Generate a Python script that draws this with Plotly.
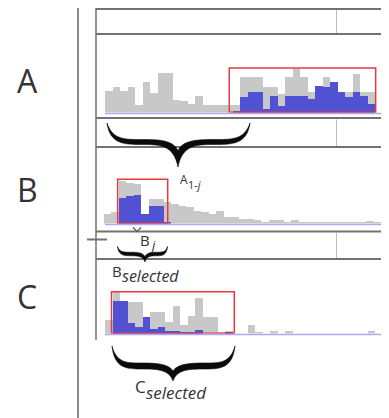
import plotly.graph_objects as go

# The page body has an 8px margin, so the figure is drawn at (8, 8).
OX, OY = 8, 8
W, H = 389 - OX, 418 - OY

# ---------------- data ----------------
bins_A = list(range(36))
A_gray = [22, 26, 22, 26, 8, 31, 20, 40, 40, 13, 12, 9, 17, 8, 8, 8, 8, 8,
          36, 36, 36, 26, 26, 19, 36, 44, 36, 21, 27, 36, 31, 21, 21, 39, 21, 21]
A_blue = [0, 0, 0, 0, 0, 0, 0, 0, 0, 0, 0, 0, 0, 0, 0, 0, 0, 2,
          16, 21, 21, 4, 17, 7, 17, 17, 17, 14, 27, 26, 31, 21, 16, 21, 17, 9]

bins_B = list(range(37))
B_gray = [10, 12, 43, 41, 40, 10, 25, 25, 22, 20, 18, 17, 13, 12, 10, 13, 7, 7, 5,
          5, 4, 2, 4, 4, 1, 4, 2, 2, 1, 1, 2, 2, 2, 1, 2, 3, 1]
B_blue = [0, 0, 26, 28, 29, 10, 18, 18, 2, 0, 0, 0, 0, 0, 0, 0, 0, 0, 0,
          0, 0, 0, 0, 0, 0, 0, 0, 0, 0, 0, 0, 0, 0, 0, 0, 0, 0]

bins_C = list(range(36))
C_gray = [14, 42, 33, 32, 32, 17, 22, 22, 12, 28, 9, 18, 36, 17, 17, 2, 3, 0,
          0, 9, 2, 0, 3, 0, 3, 0, 0, 0, 0, 0, 0, 0, 0, 0, 0, 3]
C_blue = [0, 33, 33, 11, 7, 17, 5, 7, 3, 3, 1, 1, 4, 0, 0, 0, 1, 0,
          0, 0, 0, 0, 0, 0, 0, 0, 0, 0, 0, 0, 0, 0, 0, 0, 0, 0]

# selected ranges (bin units) and box heights
A_sel = (16.07, 35.59, 44.5)
B_sel = (1.39, 8.06, 44.2)
C_sel = (0.37, 16.74, 41.8)

row_labels = ["A", "B", "C"]

GRAY = "#c8c8c8"
BLUE = "#5151d3"
RED = "#e8383d"
FRAME = "#727272"
TXT = "#333333"
FONT = "Open Sans"


def px(x):
    return (x - OX) / W


def py(y):
    return 1 - (y - OY) / H


fig = go.Figure()
for i, (bins, g, b) in enumerate([(bins_A, A_gray, A_blue), (bins_B, B_gray, B_blue),
                                  (bins_C, C_gray, C_blue)]):
    sfx = "" if i == 0 else str(i + 1)
    fig.add_trace(go.Bar(x=bins, y=g, marker=dict(color=GRAY, line=dict(width=0)), width=1,
                         xaxis="x" + sfx, yaxis="y" + sfx, showlegend=False, hoverinfo="skip"))
    fig.add_trace(go.Bar(x=bins, y=b, marker=dict(color=BLUE, line=dict(width=0)), width=1,
                         xaxis="x" + sfx, yaxis="y" + sfx, showlegend=False, hoverinfo="skip"))

ax = dict(visible=False, showgrid=False, zeroline=False, fixedrange=True)
# panel geometry (pixels): baseline, top, x range
panels = [(112.5, 36, [-1.7, 37.3667]), (223.5, 149, [-1.5, 37.5667]), (333.5, 261, [-1.7, 37.3667])]
lay = {}
for i, (base, top, xr) in enumerate(panels):
    sfx = "" if i == 0 else str(i + 1)
    lay["xaxis" + sfx] = dict(ax, domain=[px(96), 1], range=xr, anchor="y" + sfx)
    lay["yaxis" + sfx] = dict(ax, domain=[py(base), py(top)], range=[0, base - top], anchor="x" + sfx)

shapes = []


def line(x0, y0, x1, y1, color=FRAME, width=1.5, layer="above"):
    shapes.append(dict(type="line", xref="paper", yref="paper", x0=px(x0), y0=py(y0),
                       x1=px(x1), y1=py(y1), line=dict(color=color, width=width), layer=layer))


# left divider
line(78, 8, 78, 418, color="#8a8a8a", width=2)
# frame
line(96, 8, 96, 340, width=1.5)
line(96, 9, 389, 9, width=2)
for y in (34, 118, 147, 231.5, 259):
    line(96, y, 389, y, width=1.8)
line(87, 239.5, 107, 239.5, width=2)
for (y0, y1) in ((10, 33), (119.5, 146), (233, 258)):
    line(336.5, y0, 336.5, y1, color="#bdbdbd", width=1)
# baselines of the blue series
for base in (113.5, 224.5, 334.5):
    line(105, base, 389, base, color="#aaaaf2", width=1.5, layer="below")

# selection boxes
for i, (s0, s1, top) in enumerate([A_sel, B_sel, C_sel]):
    sfx = "" if i == 0 else str(i + 1)
    shapes.append(dict(type="rect", xref="x" + sfx, yref="y" + sfx, x0=s0, x1=s1, y0=0.2, y1=top,
                       line=dict(color=RED, width=1.5), fillcolor="rgba(0,0,0,0)"))


def P(x, y):
    return f"{px(x):.5f},{py(y):.5f}"


def brace(x0, x1, xc, yend, yarm, ytip, t):
    L = xc - x0
    R = x1 - xc
    notch = yarm + 0.35 * (ytip - yarm)
    s = [
        "M" + P(x0, yend),
        "C" + P(x0 + 0.04 * L, yarm + 0.5 * t) + " " + P(x0 + 0.25 * L, yarm + 0.5 * t) + " " + P(x0 + 0.5 * L, yarm + 0.5 * t),
        "C" + P(x0 + 0.75 * L, yarm + 0.5 * t) + " " + P(xc - 0.06 * L, yarm + 0.6 * t) + " " + P(xc, ytip),
        "C" + P(xc + 0.06 * R, yarm + 0.6 * t) + " " + P(xc + 0.25 * R, yarm + 0.5 * t) + " " + P(xc + 0.5 * R, yarm + 0.5 * t),
        "C" + P(xc + 0.75 * R, yarm + 0.5 * t) + " " + P(x1 - 0.04 * R, yarm + 0.5 * t) + " " + P(x1, yend),
        "C" + P(x1 - 0.08 * R, yarm - 0.4 * t) + " " + P(xc + 0.75 * R, yarm - 0.5 * t) + " " + P(xc + 0.5 * R, yarm - 0.5 * t),
        "C" + P(xc + 0.25 * R, yarm - 0.5 * t) + " " + P(xc + 0.06 * R, yarm - 0.3 * t) + " " + P(xc, notch),
        "C" + P(xc - 0.06 * L, yarm - 0.3 * t) + " " + P(xc - 0.25 * L, yarm - 0.5 * t) + " " + P(xc - 0.5 * L, yarm - 0.5 * t),
        "C" + P(x0 + 0.25 * L, yarm - 0.5 * t) + " " + P(x0 + 0.08 * L, yarm - 0.4 * t) + " " + P(x0, yend),
        "Z",
    ]
    shapes.append(dict(type="path", xref="paper", yref="paper", path=" ".join(s),
                       fillcolor="#0a0a0a", line=dict(width=0.6, color="#0a0a0a")))


brace(107, 250, 178, 123, 142, 167, 5)
brace(117.5, 167.5, 145, 246.5, 254, 262, 3.5)
brace(112, 235, 173, 346, 366, 381, 6)
# small tick under box B
shapes.append(dict(type="path", xref="paper", yref="paper",
                   path="M" + P(133, 227.5) + " L" + P(137, 231.5) + " L" + P(141, 227.5),
                   line=dict(color="#555555", width=1.2)))

annotations = []


def text(t, x, y, size, anchor="left", italic=False):
    annotations.append(dict(text=t, x=px(x), y=py(y), xref="paper", yref="paper", showarrow=False,
                            xanchor=anchor, yanchor="middle", borderpad=0, borderwidth=0,
                            font=dict(family=FONT, size=size, color=TXT,
                                      style="italic" if italic else "normal")))


def sub_label(main, sub, x, y, size, subsize, dy, italic_sub=True):
    # main letter ends at x, the subscript starts right after it, a little lower
    text(main, x, y, size, anchor="right")
    text(sub, x + 0.1, y + dy, subsize, anchor="left", italic=italic_sub)


for lab, yc in zip(row_labels, (81, 190, 296)):
    text(lab, 27, yc, 32, anchor="center")

sub_label("A", "1-<i>j</i>", 187.5, 179.5, 12, 11, 5.5, italic_sub=False)
sub_label("B", "j", 149.5, 240.5, 15, 13, 5)
sub_label("B", "selected", 121.5, 270.5, 15, 16, 5)
sub_label("C", "selected", 145.5, 386.5, 17, 17, 6)

fig.update_layout(width=W, height=H, margin=dict(l=0, r=0, t=0, b=0),
                  paper_bgcolor="white", plot_bgcolor="white",
                  barmode="overlay", bargap=0, showlegend=False,
                  shapes=shapes, annotations=annotations, **lay)

fig.write_html("out.html")
